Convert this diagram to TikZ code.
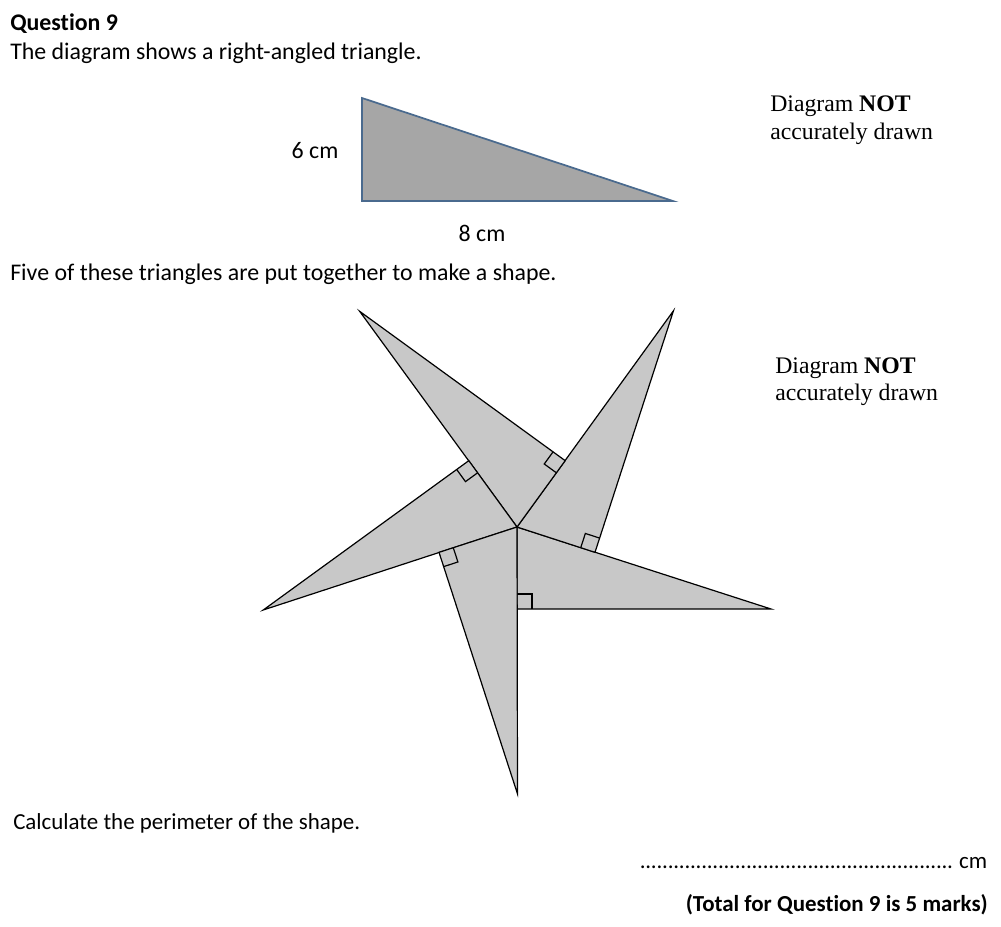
\documentclass[tikz,border=0pt]{standalone}
\usepackage{fontspec}
\setmainfont{Carlito}[Ligatures=NoCommon]
\newfontfamily\timesfont{Liberation Serif}
\definecolor{trigrey}{HTML}{A6A6A6}
\definecolor{triedge}{HTML}{4A6A8E}
\definecolor{stargrey}{HTML}{C8C8C8}
\newcommand{\answerdots}{\leaders\hbox to 4.2pt{\hss.\hss}\hfill}
\tikzset{
  qtext/.style={anchor=base west, inner sep=0pt, font=\fontsize{17.9}{21}\selectfont},
  smalltext/.style={anchor=base west, inner sep=0pt, font=\fontsize{17.2}{21}\selectfont},
  notetext/.style={anchor=base west, inner sep=0pt, font=\timesfont\fontsize{17.8}{21}\selectfont},
  starpiece/.style={fill=stargrey, draw=black, line width=0.9pt, line join=miter}
}
\begin{document}
\begin{tikzpicture}[x=0.75pt,y=0.75pt]
    \useasboundingbox (0,0) rectangle (1001,-926);
    \node[qtext] (title) at (10,-30) {\bfseries Question 9};
    \node[qtext] (intro) at (10,-59) {The diagram shows a right-angled triangle.};
    % the single triangle
    \coordinate (top) at (362,-98);
    \coordinate (corner) at (362,-201);
    \coordinate (tip) at (673,-201);
    \filldraw[fill=trigrey, draw=triedge, line width=1.3pt] (top) -- (corner) -- (tip) -- cycle;
    \node[qtext, anchor=base] (side) at (315,-158) {6 cm};
    \node[qtext, anchor=base] (base) at (482,-241) {8 cm};
    \node[notetext] (noteA) at (770,-111) {Diagram \textbf{NOT}};
    \node[notetext] (noteB) at (770,-139) {accurately drawn};
    \node[qtext] (five) at (10,-280) {Five of these triangles are put together to make a shape.};
    % the five triangles round the centre
    \begin{scope}[shift={(517,-527)}]
    \foreach \k in {0,...,4}{
      \begin{scope}[rotate={-90+72*\k}]
        \draw[starpiece] (0,0) -- (82,0) -- (82,254) -- cycle;
        \draw[line width=0.9pt] (67,0) |- (82,15);
      \end{scope}
    }
    \end{scope}
    \node[notetext] (noteC) at (775,-373) {Diagram \textbf{NOT}};
    \node[notetext] (noteD) at (775,-400) {accurately drawn};
    \node[smalltext] (ask) at (13,-829) {Calculate the perimeter of the shape.};
    \node[smalltext, anchor=base east] (answer) at (988,-868) {\hbox to 237pt{\answerdots}\,cm};
    \node[smalltext, anchor=base east] (marks) at (988,-911) {\bfseries (Total for Question 9 is 5 marks)};
\end{tikzpicture}
\end{document}
